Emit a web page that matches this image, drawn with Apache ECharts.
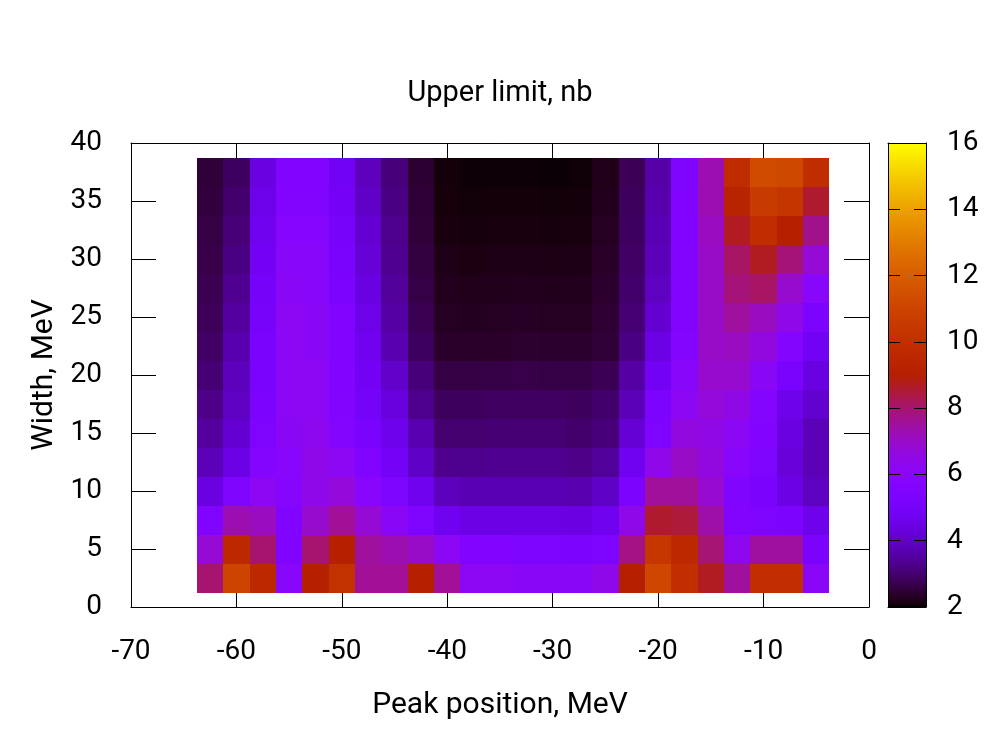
<!DOCTYPE html>
<html>
<head>
<meta charset="utf-8">
<script src="https://cdn.jsdelivr.net/npm/echarts@6/dist/echarts.min.js"></script>
<style>
  html, body { margin: 0; padding: 0; background: #fff; }
  #chart { width: 1000px; height: 750px; }
</style>
</head>
<body>
<div id="chart"></div>
<script>
// ---- Data ----
// Cell centres along the peak-position axis (MeV)
const peakPositions = [-62.5, -60, -57.5, -55, -52.5, -50, -47.5, -45, -42.5, -40, -37.5, -35,
                       -32.5, -30, -27.5, -25, -22.5, -20, -17.5, -15, -12.5, -10, -7.5, -5];
// Cell centres along the width axis (MeV)
const widths = [2.5, 5, 7.5, 10, 12.5, 15, 17.5, 20, 22.5, 25, 27.5, 30, 32.5, 35, 37.5];

// Upper limit (nb), one row per width, columns follow peakPositions
const width_02_5 = [8.0, 11.0, 9.6, 6.0, 9.0, 10.1, 7.6, 7.6, 9.0, 7.6, 6.2, 6.2, 6.05, 6.05, 6.1, 6.4, 9.1, 11.1, 10.0, 8.7, 7.5, 10.0, 10.0, 6.05];
const width_05_0 = [6.8, 9.6, 8.0, 5.5, 8.0, 9.0, 7.5, 7.3, 7.0, 6.2, 5.5, 5.5, 5.35, 5.35, 5.3, 5.35, 7.8, 10.4, 9.65, 7.95, 6.3, 7.5, 7.5, 5.25];
const width_07_5 = [5.5, 7.3, 7.1, 5.5, 6.9, 7.6, 6.8, 6.1, 5.4, 4.75, 4.5, 4.5, 4.5, 4.5, 4.45, 4.7, 6.4, 8.6, 8.5, 7.4, 5.6, 5.45, 5.3, 4.6];
const width_10_0 = [4.4, 5.4, 6.2, 5.8, 6.4, 6.7, 5.9, 5.35, 4.7, 3.85, 3.75, 3.75, 3.75, 3.75, 3.7, 4.0, 5.3, 7.55, 7.55, 6.85, 5.6, 5.25, 4.5, 3.9];
const width_12_5 = [3.8, 4.5, 5.75, 5.9, 6.4, 6.2, 5.5, 4.9, 4.0, 3.3, 3.3, 3.35, 3.35, 3.35, 3.25, 3.45, 4.75, 6.4, 7.0, 6.6, 6.0, 5.4, 4.3, 3.8];
const width_15_0 = [3.5, 4.15, 5.4, 6.1, 6.3, 5.7, 5.2, 4.65, 3.7, 3.0, 3.0, 3.05, 3.05, 3.05, 2.97, 3.1, 4.2, 5.4, 6.6, 6.5, 6.2, 5.5, 4.4, 3.8];
const width_17_5 = [3.25, 3.95, 5.3, 6.2, 6.2, 5.6, 5.0, 4.35, 3.3, 2.83, 2.83, 2.87, 2.88, 2.88, 2.83, 2.95, 3.8, 5.3, 6.2, 6.7, 6.5, 5.7, 4.6, 4.1];
const width_20_0 = [3.05, 3.85, 5.2, 6.2, 6.2, 5.5, 4.85, 4.05, 3.1, 2.6, 2.6, 2.62, 2.65, 2.63, 2.62, 2.75, 3.55, 4.85, 6.0, 6.9, 6.9, 6.1, 5.15, 4.4];
const width_22_5 = [2.9, 3.67, 5.15, 6.2, 6.1, 5.5, 4.7, 3.7, 2.85, 2.38, 2.36, 2.38, 2.42, 2.4, 2.4, 2.5, 3.2, 4.5, 5.7, 7.0, 7.1, 6.6, 5.7, 4.8];
const width_25_0 = [2.8, 3.52, 5.1, 6.2, 6.1, 5.5, 4.55, 3.55, 2.72, 2.3, 2.28, 2.3, 2.32, 2.3, 2.3, 2.45, 3.05, 4.15, 5.6, 7.0, 7.5, 7.1, 6.4, 5.3];
const width_27_5 = [2.72, 3.34, 5.0, 6.1, 6.0, 5.3, 4.4, 3.45, 2.63, 2.25, 2.22, 2.24, 2.25, 2.23, 2.25, 2.4, 2.95, 3.9, 5.55, 7.0, 7.9, 8.1, 6.9, 6.0];
const width_30_0 = [2.65, 3.2, 4.85, 6.0, 6.0, 5.2, 4.25, 3.35, 2.57, 2.2, 2.15, 2.18, 2.18, 2.17, 2.18, 2.35, 2.9, 3.82, 5.55, 7.0, 8.1, 8.7, 7.9, 6.8];
const width_32_5 = [2.6, 3.07, 4.7, 5.85, 5.8, 5.1, 4.15, 3.3, 2.5, 2.13, 2.1, 2.12, 2.12, 2.11, 2.13, 2.3, 2.85, 3.75, 5.5, 7.1, 8.7, 9.9, 9.0, 7.7];
const width_35_0 = [2.55, 2.97, 4.55, 5.65, 5.6, 4.95, 4.0, 3.2, 2.48, 2.1, 2.07, 2.08, 2.08, 2.07, 2.09, 2.25, 2.82, 3.67, 5.5, 7.3, 9.3, 10.6, 10.3, 8.6];
const width_37_5 = [2.5, 2.85, 4.4, 5.5, 5.5, 4.8, 3.85, 3.1, 2.44, 2.09, 2.05, 2.05, 2.05, 2.04, 2.06, 2.22, 2.78, 3.6, 5.4, 7.3, 9.8, 11.3, 11.2, 9.9];

const upperLimitRows = [width_02_5, width_05_0, width_07_5, width_10_0, width_12_5, width_15_0,
                        width_17_5, width_20_0, width_22_5, width_25_0, width_27_5, width_30_0,
                        width_32_5, width_35_0, width_37_5];

// Axis ticks
const xTickMin = -70, xTickMax = 0, xTickStep = 10;
const yTickMin = 0, yTickMax = 40, yTickStep = 5;
const cbMin = 2, cbMax = 16, cbStep = 2;

// ---- Palette (gnuplot default rgbformulae 7,5,15) ----
function toHex(v) { const n = Math.max(0, Math.min(255, Math.round(v * 255))); return (n < 16 ? '0' : '') + n.toString(16); }
function gnuplotColor(t) {
  const r = Math.sqrt(t), g = t * t * t, b = Math.max(0, Math.sin(2 * Math.PI * t));
  return '#' + toHex(r) + toHex(g) + toHex(b);
}
const paletteN = 200;
const palette = [];
for (let i = 0; i <= paletteN; i++) palette.push(gnuplotColor(i / paletteN));
const paletteStops = palette.map((c, i) => ({ offset: i / paletteN, color: c }));

// ---- Build cells ----
const cells = [];
upperLimitRows.forEach((row, j) => {
  row.forEach((v, i) => cells.push([peakPositions[i], widths[j], v]));
});
const dx = peakPositions[1] - peakPositions[0];
const dy = widths[1] - widths[0];

const FONT = 'Roboto';
const FS = 28;      // tick labels
const FS_NAME = 30; // axis titles
const FS_TITLE = 29;

const chart = echarts.init(document.getElementById('chart'), null, { renderer: 'canvas' });

function renderCell(params, api) {
  const x = api.value(0), y = api.value(1);
  const p0 = api.coord([x - dx / 2, y + dy / 2]);
  const p1 = api.coord([x + dx / 2, y - dy / 2]);
  const x0 = Math.round(p0[0]), y0 = Math.round(p0[1]);
  const x1 = Math.round(p1[0]), y1 = Math.round(p1[1]);
  return {
    type: 'rect',
    shape: { x: x0, y: y0, width: x1 - x0, height: y1 - y0 },
    style: { fill: api.visual('color') }
  };
}

function renderColorbar(params, api) {
  const pTop = api.coord([0, api.value(2)]);
  const pBot = api.coord([1, api.value(1)]);
  return {
    type: 'rect',
    shape: { x: pTop[0], y: pTop[1], width: pBot[0] - pTop[0], height: pBot[1] - pTop[1] },
    style: {
      fill: { type: 'linear', x: 0, y: 1, x2: 0, y2: 0, colorStops: paletteStops, global: false }
    }
  };
}

const axisLineBlack = { show: true, onZero: false, lineStyle: { color: '#000', width: 1 } };
const labelStyle = { color: '#000', fontSize: FS, fontFamily: FONT };

const option = {
  animation: false,
  backgroundColor: '#fff',
  textStyle: { fontFamily: FONT },
  title: {
    text: 'Upper limit, nb',
    left: 'center',
    top: 74,
    textStyle: { fontSize: FS_TITLE, fontWeight: 'normal', color: '#000', fontFamily: FONT, lineHeight: FS_TITLE }
  },
  grid: [
    { left: 131, top: 143, width: 738, height: 464, show: false },
    { left: 888, top: 143, width: 38, height: 464, show: false }
  ],
  xAxis: [
    {
      gridIndex: 0, type: 'value', min: xTickMin, max: xTickMax, interval: xTickStep, position: 'bottom',
      axisLine: axisLineBlack,
      axisTick: { show: true, inside: true, length: 25, lineStyle: { color: '#000' } },
      axisLabel: Object.assign({ margin: 31 }, labelStyle),
      splitLine: { show: false },
      name: 'Peak position, MeV', nameLocation: 'middle', nameGap: 83,
      nameTextStyle: { color: '#000', fontSize: FS_NAME, fontFamily: FONT, lineHeight: FS_NAME }
    },
    {
      gridIndex: 0, type: 'value', min: xTickMin, max: xTickMax, interval: xTickStep, position: 'top',
      axisLine: axisLineBlack,
      axisTick: { show: true, inside: true, length: 25, lineStyle: { color: '#000' } },
      axisLabel: { show: false }, splitLine: { show: false }
    },
    {
      gridIndex: 1, type: 'value', min: 0, max: 1, position: 'bottom', z: 10,
      axisLine: axisLineBlack, axisTick: { show: false }, axisLabel: { show: false }, splitLine: { show: false }
    },
    {
      gridIndex: 1, type: 'value', min: 0, max: 1, position: 'top', z: 10,
      axisLine: axisLineBlack, axisTick: { show: false }, axisLabel: { show: false }, splitLine: { show: false }
    }
  ],
  yAxis: [
    {
      gridIndex: 0, type: 'value', min: yTickMin, max: yTickMax, interval: yTickStep, position: 'left',
      axisLine: axisLineBlack,
      axisTick: { show: true, inside: true, length: 25, lineStyle: { color: '#000' } },
      axisLabel: Object.assign({ margin: 29 }, labelStyle),
      splitLine: { show: false },
      name: 'Width, MeV', nameLocation: 'middle', nameGap: 67,
      nameTextStyle: { color: '#000', fontSize: FS_NAME, fontFamily: FONT, lineHeight: FS_NAME }
    },
    {
      gridIndex: 0, type: 'value', min: yTickMin, max: yTickMax, interval: yTickStep, position: 'right',
      axisLine: axisLineBlack,
      axisTick: { show: true, inside: true, length: 25, lineStyle: { color: '#000' } },
      axisLabel: { show: false }, splitLine: { show: false }
    },
    {
      gridIndex: 1, type: 'value', min: cbMin, max: cbMax, interval: cbStep, position: 'right', z: 10,
      axisLine: axisLineBlack,
      axisTick: { show: true, inside: true, length: 12, lineStyle: { color: '#000' } },
      axisLabel: Object.assign({ margin: 21 }, labelStyle),
      splitLine: { show: false }
    },
    {
      gridIndex: 1, type: 'value', min: cbMin, max: cbMax, interval: cbStep, position: 'left', z: 10,
      axisLine: axisLineBlack,
      axisTick: { show: true, inside: true, length: 12, lineStyle: { color: '#000' } },
      axisLabel: { show: false }, splitLine: { show: false }
    }
  ],
  visualMap: {
    type: 'continuous', show: false, min: cbMin, max: cbMax, dimension: 2, seriesIndex: 0,
    inRange: { color: palette }
  },
  series: [
    {
      type: 'custom', name: 'Upper limit', xAxisIndex: 0, yAxisIndex: 0,
      renderItem: renderCell, data: cells, encode: { x: 0, y: 1 }, z: 2
    },
    {
      type: 'custom', name: 'colorbar', xAxisIndex: 2, yAxisIndex: 2,
      renderItem: renderColorbar, data: [[0, cbMin, cbMax]], encode: { x: 0, y: [1, 2] }, z: 1, silent: true
    }
  ]
};
chart.setOption(option);
</script>
</body>
</html>
